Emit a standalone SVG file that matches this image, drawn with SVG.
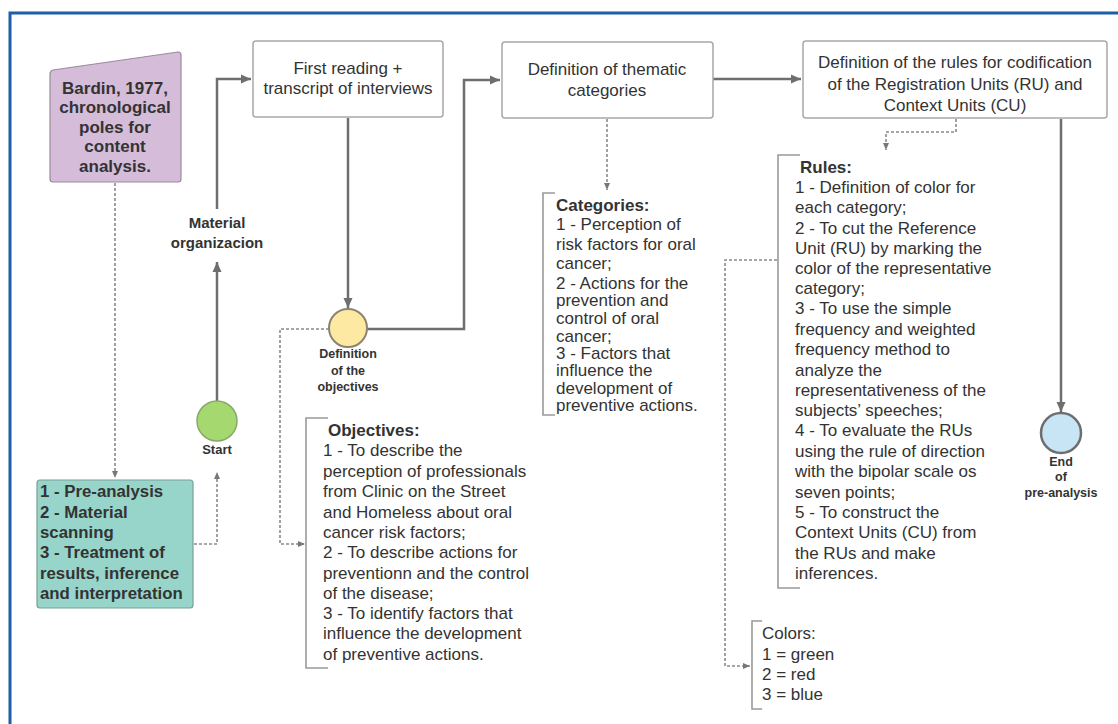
<svg xmlns="http://www.w3.org/2000/svg" width="1118" height="724" viewBox="0 0 1118 724">
<style>
.t{font-family:"Liberation Sans",Arial,sans-serif;fill:#333;}
.box{fill:#fff;stroke:#a8a8a8;stroke-width:1.5;}
.c{text-anchor:middle;}
.b{font-weight:bold;}
.solid{fill:none;stroke:#6e6e6e;stroke-width:2.5;}
.dash{fill:none;stroke:#8a8a8a;stroke-width:1.6;stroke-dasharray:3 2;}
.br{fill:none;stroke:#9a9a9a;stroke-width:1.6;}
</style>
<defs>
<marker id="ah" markerUnits="userSpaceOnUse" markerWidth="12" markerHeight="12" viewBox="0 0 12 12" refX="11" refY="6" orient="auto"><path d="M1,1.5 L11,6 L1,10.5 z" fill="#6e6e6e"/></marker>
<marker id="ad" markerUnits="userSpaceOnUse" markerWidth="9" markerHeight="9" viewBox="0 0 9 9" refX="8" refY="4.5" orient="auto"><path d="M1,1.5 L8,4.5 L1,7.5 z" fill="#777"/></marker>
</defs>
<rect width="1118" height="724" fill="#fff"/>
<path d="M10,724 L10,13 L1118,13" fill="none" stroke="#1d5fa6" stroke-width="3"/>

<g id="connectors">
<path class="solid" d="M217,401 L217,262" marker-end="url(#ah)"/>
<path class="solid" d="M217,209 L217,79 L251,79" marker-end="url(#ah)"/>
<path class="solid" d="M348,118 L348,308" marker-end="url(#ah)"/>
<path class="solid" d="M367,329 L464,329 L464,80 L500,80" marker-end="url(#ah)"/>
<path class="solid" d="M713,79 L801,79" marker-end="url(#ah)"/>
<path class="solid" d="M1061,119 L1061,412" marker-end="url(#ah)"/>
<path class="dash" d="M115,183 L115,478" marker-end="url(#ad)"/>
<path class="dash" d="M194,544 L217,544 L217,472" marker-end="url(#ad)"/>
<path class="dash" d="M329,329 L280,329 L280,544 L305,544" marker-end="url(#ad)"/>
<path class="dash" d="M607,119 L607,190" marker-end="url(#ad)"/>
<path class="dash" d="M956,119 L956,132 L886,132 L886,150" marker-end="url(#ad)"/>
<path class="dash" d="M777,260 L725,260 L725,666 L750,666" marker-end="url(#ad)"/>
</g>

<g id="bardin">
<path d="M50,74 Q50,71 53,70 L178,52 Q181,52 181,55 L181,179 Q181,182 178,182 L53,182 Q50,182 50,179 Z" fill="#d5bcd9" stroke="#9a8a9c" stroke-width="1.2"/>
<text class="t c b" font-size="17" x="115"><tspan x="115" y="94">Bardin, 1977,</tspan><tspan x="115" y="113">chronological</tspan><tspan x="115" y="133">poles for</tspan><tspan x="115" y="152">content</tspan><tspan x="115" y="172">analysis.</tspan></text>
</g>

<g id="phases">
<rect x="37" y="480" width="156" height="128" rx="3" fill="#97d4c9" stroke="#7a9f99" stroke-width="1.2"/>
<text class="t b" font-size="16.8" fill="#222"><tspan x="40" y="497">1 - Pre-analysis</tspan><tspan x="40" y="518">2 - Material</tspan><tspan x="40" y="538">scanning</tspan><tspan x="40" y="558">3 - Treatment of</tspan><tspan x="40" y="579">results, inference</tspan><tspan x="40" y="599">and interpretation</tspan></text>
</g>

<g id="start">
<circle cx="217" cy="421" r="20" fill="#a6d870" stroke="#8aa86a" stroke-width="1.5"/>
<text class="t c b" font-size="13" x="217" y="454">Start</text>
</g>

<g id="material-label">
<text class="t c b" font-size="15" x="217"><tspan x="217" y="228">Material</tspan><tspan x="217" y="248">organizacion</tspan></text>
</g>

<g id="first-reading">
<rect class="box" x="253" y="41" width="190" height="76" rx="3"/>
<text class="t c" font-size="17"><tspan x="348" y="74">First reading +</tspan><tspan x="348" y="94">transcript of interviews</tspan></text>
</g>

<g id="objectives-node">
<circle cx="348" cy="328" r="19" fill="#fde9a2" stroke="#8c8470" stroke-width="2"/>
<text class="t c b" font-size="12.5"><tspan x="348" y="358">Definition</tspan><tspan x="348" y="375">of the</tspan><tspan x="348" y="391">objectives</tspan></text>
</g>

<g id="thematic">
<rect class="box" x="502" y="42" width="211" height="76" rx="3"/>
<text class="t c" font-size="17"><tspan x="607" y="75">Definition of thematic</tspan><tspan x="607" y="96">categories</tspan></text>
</g>

<g id="rules-box">
<rect class="box" x="803" y="41" width="304" height="77" rx="3"/>
<text class="t c" font-size="17"><tspan x="955" y="68">Definition of the rules for codification</tspan><tspan x="955" y="90">of the Registration Units (RU) and</tspan><tspan x="955" y="111">Context Units  (CU)</tspan></text>
</g>

<g id="end">
<circle cx="1061" cy="433" r="20" fill="#c8e5f6" stroke="#6e6e6e" stroke-width="2.5"/>
<text class="t c b" font-size="12.5"><tspan x="1061" y="466">End</tspan><tspan x="1061" y="481">of</tspan><tspan x="1061" y="497">pre-analysis</tspan></text>
</g>

<g id="objectives">
<path class="br" d="M328,418 L306,418 L306,668 L328,668"/>
<text class="t" font-size="17"><tspan class="b" x="328" y="436">Objectives:</tspan><tspan x="323" y="456">1 - To describe the</tspan><tspan x="323" y="477">perception of professionals</tspan><tspan x="323" y="497">from Clinic on the Street</tspan><tspan x="323" y="518">and Homeless about oral</tspan><tspan x="323" y="538">cancer risk factors;</tspan><tspan x="323" y="558">2 - To describe actions for</tspan><tspan x="323" y="579">preventionn and the control</tspan><tspan x="323" y="599">of the disease;</tspan><tspan x="323" y="619">3 - To identify factors that</tspan><tspan x="323" y="639">influence the development</tspan><tspan x="323" y="660">of preventive actions.</tspan></text>
</g>

<g id="categories">
<path class="br" d="M555,193 L543,193 L543,415 L555,415"/>
<text class="t" font-size="17"><tspan class="b" x="556" y="211">Categories:</tspan><tspan x="556" y="230">1 - Perception of</tspan><tspan x="556" y="250">risk factors for oral</tspan><tspan x="556" y="269">cancer;</tspan><tspan x="556" y="289">2 - Actions for the</tspan><tspan x="556" y="306">prevention and</tspan><tspan x="556" y="324">control of oral</tspan><tspan x="556" y="342">cancer;</tspan><tspan x="556" y="359">3 - Factors that</tspan><tspan x="556" y="376">influence the</tspan><tspan x="556" y="394">development of</tspan><tspan x="556" y="411">preventive actions.</tspan></text>
</g>

<g id="rules">
<path class="br" d="M800,155 L778,155 L778,588 L800,588"/>
<text class="t" font-size="17"><tspan class="b" x="800" y="173">Rules:</tspan><tspan x="795" y="193">1 - Definition of color for</tspan><tspan x="795" y="213">each category;</tspan><tspan x="795" y="234">2 - To cut the Reference</tspan><tspan x="795" y="254">Unit (RU) by marking the</tspan><tspan x="795" y="274">color of the representative</tspan><tspan x="795" y="294">category;</tspan><tspan x="795" y="314">3 - To use the simple</tspan><tspan x="795" y="335">frequency and weighted</tspan><tspan x="795" y="355">frequency method to</tspan><tspan x="795" y="376">analyze the</tspan><tspan x="795" y="396">representativeness of the</tspan><tspan x="795" y="416">subjects’ speeches;</tspan><tspan x="795" y="436">4 - To evaluate the RUs</tspan><tspan x="795" y="457">using the rule of direction</tspan><tspan x="795" y="477">with the bipolar scale os</tspan><tspan x="795" y="498">seven points;</tspan><tspan x="795" y="518">5 - To construct the</tspan><tspan x="795" y="538">Context Units (CU) from</tspan><tspan x="795" y="559">the RUs and make</tspan><tspan x="795" y="579">inferences.</tspan></text>
</g>

<g id="colors">
<path class="br" d="M762,621 L752,621 L752,709 L762,709"/>
<text class="t" font-size="17"><tspan x="762" y="639">Colors:</tspan><tspan x="762" y="660">1 = green</tspan><tspan x="762" y="680">2 = red</tspan><tspan x="762" y="700">3 = blue</tspan></text>
</g>
</svg>
